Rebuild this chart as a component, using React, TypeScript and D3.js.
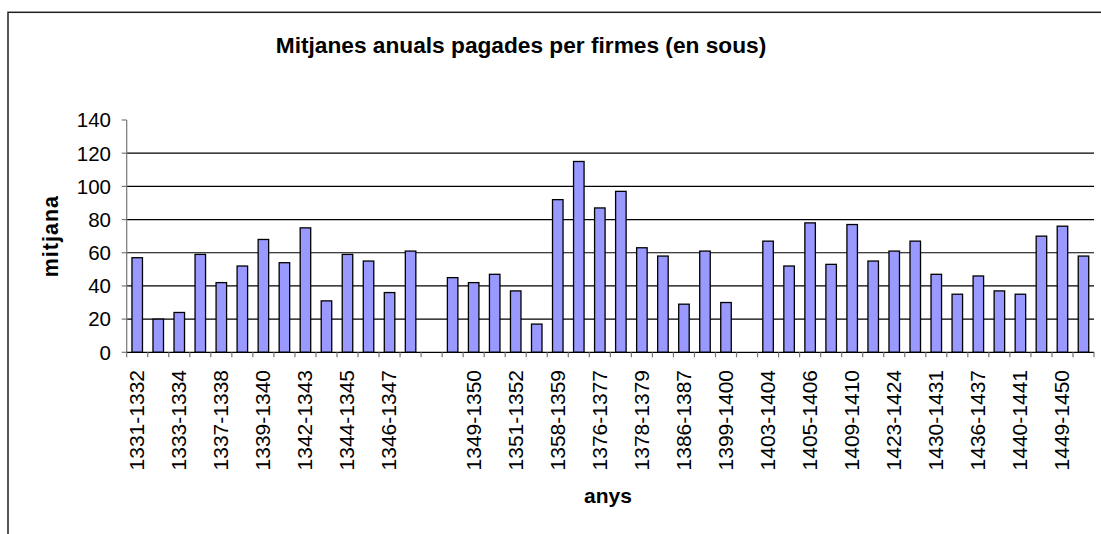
import React from 'react';
import * as d3 from 'd3';

// periods on the x axis ("" = empty slot in the original sheet)
const periods = [
  '1331-1332', '1332-1333', '1333-1334', '1335-1336', '1337-1338', '1338-1339',
  '1339-1340', '1340-1341', '1342-1343', '1343-1344', '1344-1345', '1345-1346',
  '1346-1347', '1347-1348', '', '1348-1349', '1349-1350', '1350-1351',
  '1351-1352', '1352-1353', '1358-1359', '1375-1376', '1376-1377', '1377-1378',
  '1378-1379', '1379-1380', '1386-1387', '1387-1388', '1399-1400', '',
  '1403-1404', '1404-1405', '1405-1406', '1406-1407', '1409-1410', '1410-1411',
  '1423-1424', '1424-1425', '1430-1431', '1431-1432', '1436-1437', '1437-1438',
  '1440-1441', '1441-1442', '1449-1450', '1450-1451'
];

const mitjana = [
  57, 20, 24, 59, 42, 52, 68, 54, 75, 31, 59, 55, 36, 61, null, 45, 42, 47,
  37, 17, 92, 115, 87, 97, 63, 58, 29, 61, 30, null, 67, 52, 78, 53, 77, 55,
  61, 67, 47, 35, 46, 37, 35, 70, 76, 58
];

const yTicks = [0, 20, 40, 60, 80, 100, 120, 140];

const W = 1101;
const H = 534;
const font = '"Liberation Sans", Arial, sans-serif';

const App = () => {
  const left = 126.7;
  const right = 1094;
  const top = 120;
  const bottom = 352.3;

  const x = d3.scaleBand()
    .domain(periods.map((_, i) => String(i)))
    .range([left, right])
    .paddingInner(0)
    .paddingOuter(0);
  const y = d3.scaleLinear().domain([0, 140]).range([bottom, top]);

  const bw = x.bandwidth();
  const barW = bw * 0.5;

  return (
    <svg width={W} height={H} style={{ position: 'absolute', left: 0, top: 0, background: '#fff' }}
      fontFamily={font}>
      <rect x={8} y={12.3} width={W + 20} height={H + 20} fill="#fff" stroke="#222" strokeWidth={1.5} />

      <text x={521} y={53} textAnchor="middle" fontSize={22.7} fontWeight="bold">
        Mitjanes anuals pagades per firmes (en sous)
      </text>

      {/* gridlines */}
      {yTicks.filter(t => t > 0 && t < 140).map(t => (
        <line key={t} x1={left} x2={right} y1={y(t)} y2={y(t)} stroke="#000" strokeWidth={1.2} />
      ))}

      {/* y axis */}
      <line x1={left} x2={left} y1={top} y2={bottom} stroke="#777" strokeWidth={1.2} />
      {yTicks.map(t => (
        <g key={t}>
          <line x1={left - 5} x2={left} y1={y(t)} y2={y(t)} stroke="#777" strokeWidth={1.2} />
          <text x={111} y={y(t)} dy="0.36em" textAnchor="end" fontSize={20.5}>{t}</text>
        </g>
      ))}

      {/* bars */}
      {mitjana.map((v, i) => v == null ? null : (
        <rect key={i}
          x={x(String(i))! + (bw - barW) / 2}
          y={y(v)}
          width={barW}
          height={y(0) - y(v)}
          fill="#9999FF" stroke="#000" strokeWidth={1.3} />
      ))}

      {/* x axis */}
      <line x1={left} x2={right} y1={bottom} y2={bottom} stroke="#000" strokeWidth={1.3} />
      {d3.range(periods.length + 1).map(i => {
        const tx = left + i * bw;
        return <line key={i} x1={tx} x2={tx} y1={bottom} y2={bottom + 5} stroke="#777" strokeWidth={1.2} />;
      })}
      {periods.map((p, i) => i % 2 === 0 && p !== '' ? (
        <text key={i}
          transform={`translate(${x(String(i))! + bw / 2},370) rotate(-90)`}
          dy="0.33em" textAnchor="end" fontSize={21}>{p}</text>
      ) : null)}

      {/* axis titles */}
      <text transform={`translate(50,${(top + bottom) / 2}) rotate(-90)`} dy="0.35em"
        textAnchor="middle" fontSize={21.5} letterSpacing={1} fontWeight="bold">mitjana</text>
      <text x={608} y={503} textAnchor="middle" fontSize={21} fontWeight="bold">anys</text>
    </svg>
  );
};

export default App;
